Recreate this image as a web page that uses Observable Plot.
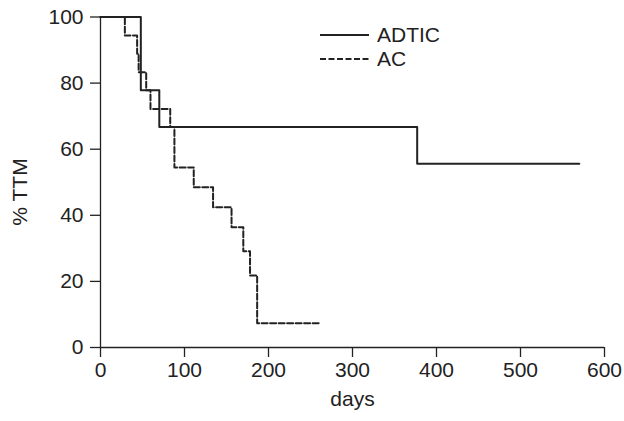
<!DOCTYPE html>
<html>
<head>
<meta charset="utf-8">
<script src="https://cdn.jsdelivr.net/npm/d3@7"></script>
<script src="https://cdn.jsdelivr.net/npm/@observablehq/plot@0.6"></script>
<style>
  html, body { margin: 0; padding: 0; background: #fff; }
  #wrap { position: relative; width: 624px; height: 421px; font-family: "Liberation Sans", Arial, sans-serif; }
  #legend { position: absolute; left: 0; top: 0; pointer-events: none; }
</style>
</head>
<body>
<div id="wrap">
  <div id="chart"></div>
  <svg id="legend" width="624" height="421"></svg>
</div>
<script>
// Kaplan–Meier style step data (days, % TTM)
const adticDays   = [0, 48, 70, 377, 570];
const adticValues = [100, 77.8, 66.7, 55.6, 55.6];

const acDays   = [0, 29, 43.6, 45.4, 54.4, 59.5, 83, 88, 111, 134, 156, 170, 178, 186.5, 262];
const acValues = [100, 94.4, 88.9, 83.3, 77.8, 72.2, 66.7, 54.5, 48.5, 42.4, 36.4, 29.1, 21.8, 7.3, 7.3];

const seriesNames = ["ADTIC", "AC"];
const xTicks = [0, 100, 200, 300, 400, 500, 600];
const yTicks = [0, 20, 40, 60, 80, 100];
const xLabel = "days";
const yLabel = "% TTM";

const adtic = adticDays.map((d, i) => ({days: d, value: adticValues[i], series: seriesNames[0]}));
const ac = acDays.map((d, i) => ({days: d, value: acValues[i], series: seriesNames[1]}));

const ink = "#222";
const fs = 21;
const font = "'Liberation Sans', Arial, sans-serif";

const chart = Plot.plot({
  width: 624,
  height: 421,
  marginLeft: 100,
  marginRight: 20,
  marginTop: 16.5,
  marginBottom: 74,
  style: {fontFamily: font, fontSize: "21px", color: ink, background: "#fff"},
  x: {domain: [0, 600]},
  y: {domain: [0, 100]},
  marks: [
    Plot.axisX({ticks: xTicks, tickSize: 10, tickPadding: 5, label: null, stroke: ink, strokeWidth: 1.3, fill: ink, fontSize: fs}),
    Plot.axisY({ticks: yTicks, tickSize: 10, tickPadding: 7, label: null, stroke: ink, strokeWidth: 1.3, fill: ink, fontSize: fs}),
    Plot.ruleX([0], {stroke: ink, strokeWidth: 1.3}),
    Plot.ruleY([0], {stroke: ink, strokeWidth: 1.3}),
    Plot.line(ac, {x: "days", y: "value", curve: "step-after", stroke: ink, strokeWidth: 2, strokeDasharray: "6,2.5"}),
    Plot.line(adtic, {x: "days", y: "value", curve: "step-after", stroke: ink, strokeWidth: 2}),
    Plot.text([xLabel], {text: d => d, frameAnchor: "bottom", dy: 58, fill: ink, fontSize: fs})
  ]
});
document.getElementById("chart").appendChild(chart);

// Overlay: y-axis title and legend
const lg = d3.select("#legend");
lg.append("text")
  .attr("transform", "translate(20,192) rotate(-90)")
  .attr("text-anchor", "middle").attr("dy", "0.35em")
  .attr("font-family", font).attr("font-size", fs).attr("fill", ink)
  .text(yLabel);

const legendItems = [
  {name: seriesNames[0], dash: null},
  {name: seriesNames[1], dash: "6,2.5"}
];
legendItems.forEach((it, i) => {
  const y = 35 + i * 24;
  lg.append("line").attr("x1", 320).attr("x2", 369).attr("y1", y).attr("y2", y)
    .attr("stroke", ink).attr("stroke-width", 2).attr("stroke-dasharray", it.dash);
  lg.append("text").attr("x", 377).attr("y", y).attr("dy", "0.35em")
    .attr("font-family", font).attr("font-size", fs)
    .attr("fill", ink).text(it.name);
});
</script>
</body>
</html>
